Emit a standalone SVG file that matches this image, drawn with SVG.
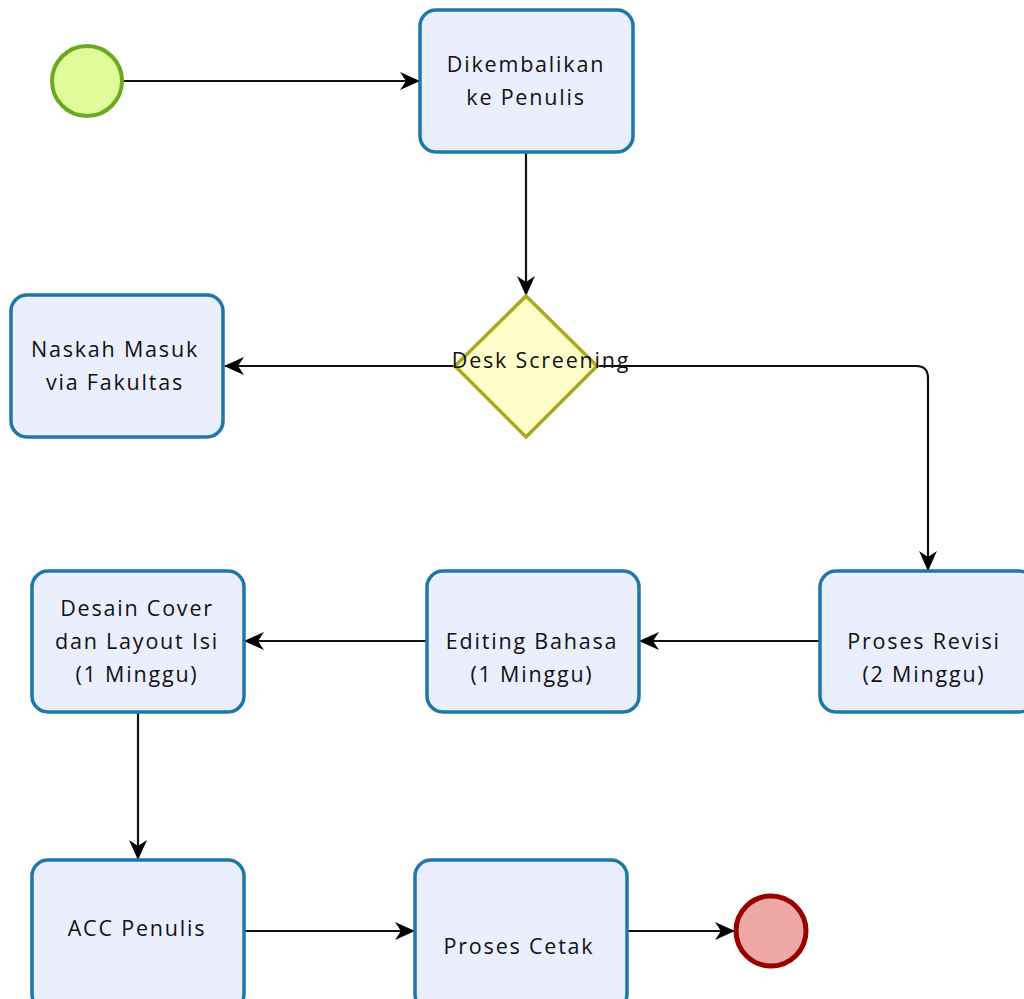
<svg xmlns="http://www.w3.org/2000/svg" width="1024" height="999" viewBox="0 0 1024 999">
<style>
.task{fill:#ebeefd;stroke:#1d78a8;stroke-width:3.5}
.t{font-family:"Open Sans","DejaVu Sans",sans-serif;font-size:21.5px;fill:#111;text-anchor:middle;letter-spacing:1.8px}
.c{fill:none;stroke:#111;stroke-width:2.2}
</style>
<defs>
<marker id="ah" viewBox="0 0 20 20" refX="19" refY="10" markerWidth="20" markerHeight="20" markerUnits="userSpaceOnUse" orient="auto">
<path d="M0,1 L20,10 L0,19 L6,10 Z" fill="#000"/>
</marker>
</defs>
<rect width="1024" height="999" fill="#fff"/>
<g id="connectors">
<path class="c" d="M123,81 H419" marker-end="url(#ah)"/>
<path class="c" d="M526,152 V295" marker-end="url(#ah)"/>
<path class="c" d="M455,366 H225" marker-end="url(#ah)"/>
<path class="c" d="M597,366 H916 Q928,366 928,378 V570" marker-end="url(#ah)"/>
<path class="c" d="M820,641 H640" marker-end="url(#ah)"/>
<path class="c" d="M427,641 H245" marker-end="url(#ah)"/>
<path class="c" d="M138,712 V859" marker-end="url(#ah)"/>
<path class="c" d="M244,931 H414" marker-end="url(#ah)"/>
<path class="c" d="M627,931 H734" marker-end="url(#ah)"/>
</g>
<g id="start"><circle cx="87" cy="81" r="35" fill="#e0fb9a" stroke="#6aaa1f" stroke-width="4"/></g>
<g id="dikembalikan"><rect class="task" x="420" y="10" width="213" height="142" rx="16"/>
<text class="t" x="526" y="72">Dikembalikan</text><text class="t" x="526" y="105">ke Penulis</text></g>
<g id="desk"><path d="M526,296 L597,366 L526,437 L455,366 Z" fill="#fefdc9" stroke="#a8ab20" stroke-width="3.5"/>
<text class="t" x="541" y="368">Desk Screening</text></g>
<g id="naskah"><rect class="task" x="11" y="295" width="212" height="142" rx="16"/>
<text class="t" x="115" y="357">Naskah Masuk</text><text class="t" x="115" y="390">via Fakultas</text></g>
<g id="revisi"><rect class="task" x="820" y="571" width="215" height="141" rx="16"/>
<text class="t" x="924" y="649">Proses Revisi</text><text class="t" x="924" y="682">(2 Minggu)</text></g>
<g id="editing"><rect class="task" x="427" y="571" width="212" height="141" rx="16"/>
<text class="t" x="532" y="649">Editing Bahasa</text><text class="t" x="532" y="682">(1 Minggu)</text></g>
<g id="desain"><rect class="task" x="32" y="571" width="212" height="141" rx="16"/>
<text class="t" x="137" y="616">Desain Cover</text><text class="t" x="137" y="649">dan Layout Isi</text><text class="t" x="137" y="682">(1 Minggu)</text></g>
<g id="acc"><rect class="task" x="32" y="860" width="212" height="150" rx="16"/>
<text class="t" x="137" y="936">ACC Penulis</text></g>
<g id="cetak"><rect class="task" x="415" y="860" width="212" height="150" rx="16"/>
<text class="t" x="519" y="954">Proses Cetak</text></g>
<g id="end"><circle cx="771" cy="931" r="35" fill="#eea8a8" stroke="#990000" stroke-width="5"/></g>
</svg>
